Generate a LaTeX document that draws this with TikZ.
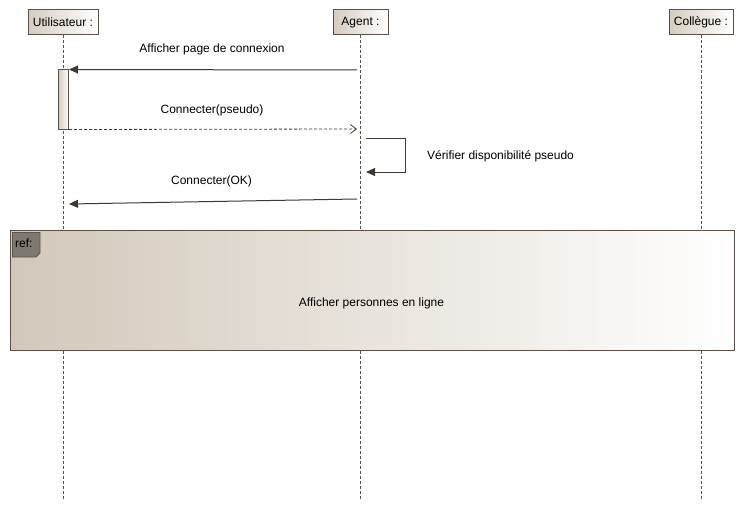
\documentclass[tikz,border=0pt]{standalone}
\usepackage{fontspec}
\setmainfont{Liberation Sans}
\usetikzlibrary{arrows.meta}
\definecolor{brd}{HTML}{5B4F46}
\definecolor{tan}{HTML}{D5CCBE}
\definecolor{reftan}{HTML}{D2C8BA}
\definecolor{tagfill}{HTML}{7F7870}
\definecolor{tagbrd}{HTML}{5D554D}
\tikzset{
  hdr/.style={draw=brd, line width=1pt, left color=tan, right color=white, shading angle=90, minimum height=25pt, inner sep=1pt, font=\fontsize{12}{14}\selectfont},
  lifeline/.style={draw=brd, line width=0.8pt, dash pattern=on 3pt off 2pt},
  msg/.style={draw=brd!70!black, line width=1pt, -{Triangle[length=9pt,width=8pt]}},
  reply/.style={draw=brd!70!black, line width=0.8pt, dash pattern=on 3pt off 2pt, -{Straight Barb[length=6pt,width=9pt,line width=0.8pt]}},
  lbl/.style={font=\fontsize{12}{14}\selectfont, inner sep=0pt},
  actbox/.style={draw=brd, line width=1pt, left color=tan, right color=white, minimum width=10pt, minimum height=59pt, inner sep=0pt},
  refbox/.style={draw=brd, line width=1pt, left color=reftan, right color=white, minimum width=724pt, minimum height=120pt, inner sep=0pt}
}
\begin{document}
\begin{tikzpicture}[x=1pt,y=-1pt]
\useasboundingbox (0,0) rectangle (744,511);
% headers
\node[hdr, minimum width=70pt] (u) at (63,22.5) {Utilisateur :};
\node[hdr, minimum width=55pt] (a) at (360.5,22.5) {Agent :};
\node[hdr, minimum width=64pt] (c) at (701,22.5) {Collègue :};
% lifeline ends
\coordinate (uend) at (63,500);
\coordinate (aend) at (360.5,500);
\coordinate (cend) at (701,500);
\draw[lifeline] (u.south) -- (uend);
\draw[lifeline] (a.south) -- (aend);
\draw[lifeline] (c.south) -- (cend);
% activation
\node[actbox] (act) at (63.5,99.5) {};
% message 1
\coordinate (m1s) at (357,70);
\draw[msg] (m1s) -- (act.north east);
\node[lbl] (l1) at (212,49) {Afficher page de connexion};
% message 2
\coordinate (m2e) at (357,129);
\draw[reply] (act.south east) -- (m2e);
\node[lbl] (l2) at (212,110) {Connecter(pseudo)};
% self message
\coordinate (s1) at (366,138);
\coordinate (s2) at (405,138);
\coordinate (s3) at (405,172);
\coordinate (s4) at (366,172);
\draw[msg] (s1) -- (s2) -- (s3) -- (s4);
\node[lbl, anchor=west] (l3) at (427,156) {Vérifier disponibilité pseudo};
% message 3
\coordinate (m3s) at (357,199);
\coordinate (m3e) at (69,204);
\draw[msg] (m3s) -- (m3e);
\node[lbl] (l4) at (211.5,181) {Connecter(OK)};
% ref frame
\node[refbox] (ref) at (372,290) {};
\draw[fill=tagfill, draw=tagbrd, line width=0.8pt] (12.5,232.5) -- (40,232.5) -- (40,253) -- (36,257) -- (12.5,257) -- cycle;
\node[lbl, anchor=west] (reftag) at (15,243) {ref:};
\node[lbl] (reftext) at (371.5,303) {Afficher personnes en ligne};
\end{tikzpicture}
\end{document}
